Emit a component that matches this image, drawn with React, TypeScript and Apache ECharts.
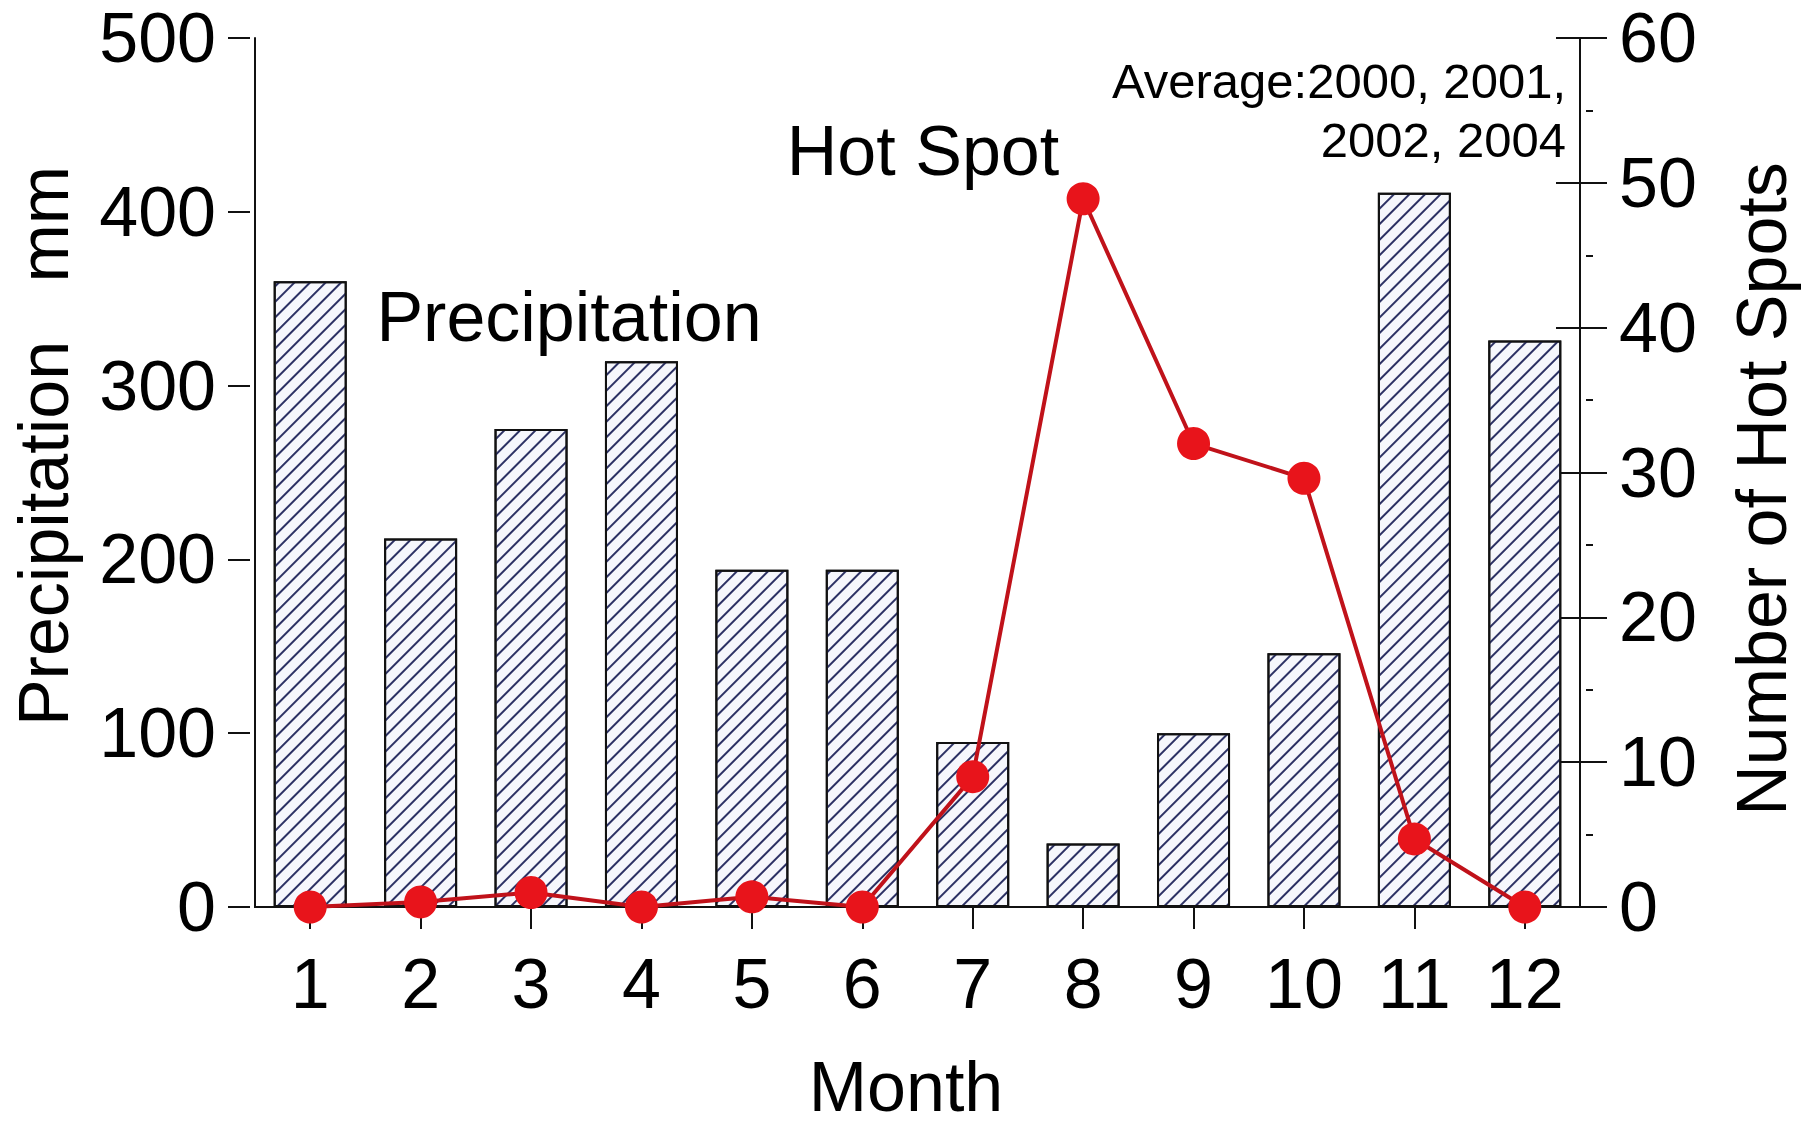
import React, { useEffect, useRef } from "react";
import * as echarts from "echarts";

const months = ["1", "2", "3", "4", "5", "6", "7", "8", "9", "10", "11", "12"];
const precipitation = [360, 212, 275, 314, 194, 194, 95, 36.5, 100, 146, 411, 326];
const hotSpots = [0, 0.35, 1.0, 0, 0.7, 0, 9.0, 48.9, 32.0, 29.6, 4.7, 0];
const leftAxis = { min: 0, max: 500, interval: 100 };
const rightAxis = { min: 0, max: 60, interval: 10 };
const labels = {
  precip: "Precipitation",
  hot: "Hot Spot",
  avg1: "Average:2000, 2001,",
  avg2: "2002, 2004",
  xName: "Month",
  leftName: "Precipitation   mm",
  rightName: "Number of Hot Spots",
};

const FONT = "'Liberation Sans', Arial, Helvetica, sans-serif";
const INK = "#111111";

export default function App() {
  const ref = useRef<HTMLDivElement>(null);
  useEffect(() => {
    document.body.style.margin = "0";
    const chart = echarts.init(ref.current as HTMLDivElement, null, { renderer: "svg" });
    const option: any = {
      animation: false,
      backgroundColor: "#ffffff",
      textStyle: { fontFamily: FONT },
      grid: { left: 255, right: 238, top: 38, bottom: 210, containLabel: false },
      xAxis: [
        {
          type: "category",
          data: months,
          position: "bottom",
          boundaryGap: true,
          axisLine: { show: true, lineStyle: { color: INK, width: 2 } },
          axisTick: { show: false },
          axisLabel: { show: false },
          splitLine: { show: false },
        },
        {
          type: "category",
          data: months,
          position: "bottom",
          offset: 6,
          boundaryGap: true,
          axisLine: { show: false },
          axisTick: { show: true, alignWithLabel: true, length: 22, lineStyle: { color: INK, width: 2 } },
          axisLabel: { show: true, fontSize: 70, color: "#000", fontFamily: FONT, margin: 36 },
          name: labels.xName,
          nameLocation: "middle",
          nameGap: 139,
          nameTextStyle: { fontSize: 70, color: "#000", fontFamily: FONT, padding: [0, 23, 0, 0] },
          splitLine: { show: false },
        },
        {
          type: "category",
          data: months,
          position: "top",
          axisLine: { show: true, lineStyle: { color: INK, width: 2 } },
          axisTick: { show: false },
          axisLabel: { show: false },
          splitLine: { show: false },
        },
      ],
      yAxis: [
        {
          type: "value",
          position: "left",
          ...leftAxis,
          axisLine: { show: true, lineStyle: { color: INK, width: 2 } },
          axisTick: { show: false },
          axisLabel: { show: false },
          splitLine: { show: false },
        },
        {
          type: "value",
          position: "left",
          offset: 5,
          ...leftAxis,
          axisLine: { show: false },
          axisTick: { show: true, length: 22, lineStyle: { color: INK, width: 2 } },
          axisLabel: { show: true, fontSize: 70, color: "#000", fontFamily: FONT, margin: 34 },
          name: labels.leftName,
          nameLocation: "middle",
          nameGap: 171,
          nameTextStyle: { fontSize: 70, color: "#000", fontFamily: FONT, padding: [0, 0, 0, 53] },
          splitLine: { show: false },
        },
        {
          type: "value",
          position: "right",
          ...rightAxis,
          axisLine: { show: true, lineStyle: { color: INK, width: 2 } },
          axisTick: { show: true, length: 27, lineStyle: { color: INK, width: 2 } },
          axisLabel: { show: true, fontSize: 70, color: "#000", fontFamily: FONT, margin: 39 },
          name: labels.rightName,
          nameLocation: "middle",
          nameGap: 147,
          nameTextStyle: { fontSize: 70, color: "#000", fontFamily: FONT, padding: [0, 33, 0, 0] },
          splitLine: { show: false },
        },
        {
          type: "value",
          position: "right",
          ...rightAxis,
          axisLine: { show: false },
          axisTick: { show: true, inside: true, length: 24, lineStyle: { color: INK, width: 2 } },
          axisLabel: { show: false },
          splitLine: { show: false },
        },
        {
          type: "value",
          position: "right",
          offset: 6,
          ...rightAxis,
          axisLine: { show: false },
          axisTick: { show: false },
          axisLabel: { show: false },
          minorTick: { show: true, splitNumber: 2, length: 7, lineStyle: { color: INK, width: 2 } },
          splitLine: { show: false },
          minorSplitLine: { show: false },
        },
      ],
      series: [
        {
          type: "bar",
          name: "Precipitation",
          xAxisIndex: 0,
          yAxisIndex: 0,
          data: precipitation,
          barWidth: 73,
          itemStyle: {
            color: "#f6f7fc",
            borderColor: INK,
            borderWidth: 2,
            decal: {
              symbol: "rect",
              symbolSize: 1,
              dashArrayX: [1, 0],
              dashArrayY: [1.2, 9],
              rotation: -Math.PI / 4,
              color: "#2c3164",
            },
          },
          z: 2,
        },
        {
          type: "line",
          name: "Hot Spot",
          xAxisIndex: 0,
          yAxisIndex: 2,
          data: hotSpots,
          symbol: "circle",
          symbolSize: 33,
          lineStyle: { color: "#c0121a", width: 4 },
          itemStyle: { color: "#e8141b", borderColor: "#e8141b", borderWidth: 0 },
          z: 5,
        },
      ],
      graphic: [
        {
          type: "text",
          x: 569,
          y: 317,
          style: { text: labels.precip, font: `70px ${FONT}`, fill: "#000", textAlign: "center", textVerticalAlign: "middle" },
          z: 10,
        },
        {
          type: "text",
          x: 923,
          y: 151,
          style: { text: labels.hot, font: `70px ${FONT}`, fill: "#000", textAlign: "center", textVerticalAlign: "middle" },
          z: 10,
        },
        {
          type: "text",
          x: 1566,
          y: 81,
          style: { text: labels.avg1, font: `49px ${FONT}`, fill: "#000", textAlign: "right", textVerticalAlign: "middle" },
          z: 10,
        },
        {
          type: "text",
          x: 1566,
          y: 140,
          style: { text: labels.avg2, font: `49px ${FONT}`, fill: "#000", textAlign: "right", textVerticalAlign: "middle" },
          z: 10,
        },
      ],
    };
    chart.setOption(option);
    return () => chart.dispose();
  }, []);
  return <div ref={ref} style={{ width: 1818, height: 1127, background: "#fff" }} />;
}
